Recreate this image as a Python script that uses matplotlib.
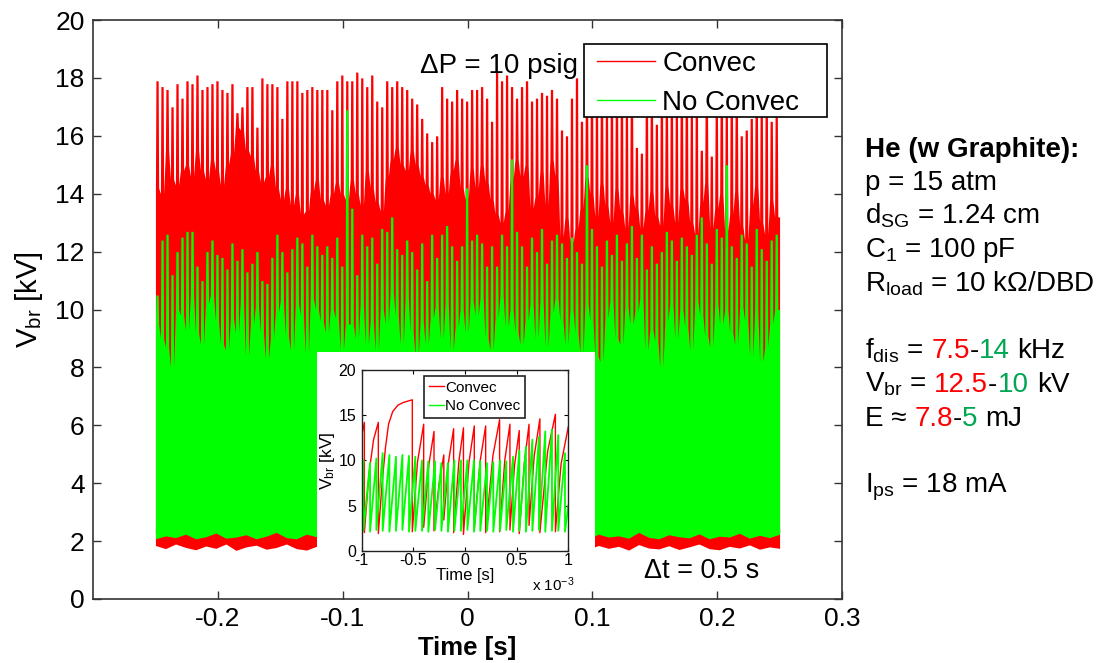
import numpy as np
import matplotlib
matplotlib.use("Agg")
import matplotlib.pyplot as plt
from matplotlib.lines import Line2D
from matplotlib.patches import Rectangle

plt.rcParams['font.family'] = ['Liberation Sans', 'DejaVu Sans']
plt.rcParams['mathtext.fontset'] = 'custom'
plt.rcParams['mathtext.rm'] = 'Liberation Sans'
plt.rcParams['mathtext.it'] = 'Liberation Sans:italic'
plt.rcParams['mathtext.bf'] = 'Liberation Sans:bold'

# ---------------- data ----------------
# main plot: per-bin spike tops and solid-band tops (kV), bins of 4 ms from -0.25 s to 0.25 s
red_peak = [17.9, 17.7, 17.6, 17.0, 17.8, 17.3, 17.9, 17.8, 18.1, 17.6, 17.7, 17.8, 17.9, 17.6, 17.5, 17.8,
            16.8, 17.0, 17.7, 17.7, 16.3, 18.0, 17.8, 17.8, 17.7, 16.6, 17.9, 17.9, 17.9, 17.5, 17.6, 17.7,
            17.6, 17.6, 17.6, 16.9, 17.9, 18.1, 17.9,
            17.9, 18.2, 18.0, 17.7, 18.1, 17.2, 17.0, 17.9, 17.7, 17.9, 17.7, 17.6, 17.3, 17.1, 16.6, 16.1,
            15.8, 16.0, 17.7, 17.3, 17.2, 17.6, 17.3, 17.2, 17.6, 17.6, 17.7, 17.3, 16.5, 18.2, 17.9, 18.1,
            17.7, 17.3, 17.7, 17.9, 17.2, 17.3, 17.5, 17.4, 17.6, 17.3,
            16.2, 16.0, 17.3, 18.0, 16.5, 17.5, 17.8, 17.2, 17.6, 17.0, 17.8, 17.4, 17.6, 17.1, 17.7, 15.6,
            15.4, 17.5, 17.3, 16.4, 17.8, 17.2, 17.6, 17.0, 17.5, 17.8, 16.7, 17.4, 15.5, 17.6, 15.3, 17.2,
            17.7, 17.0, 17.6, 17.3, 16.0, 16.2, 16.6, 17.5, 17.0, 17.6, 16.5, 16.8]
red_valley = [14.2, 14.0, 15.5, 14.5, 14.3, 14.8, 15.0, 14.6, 15.5, 14.8, 14.5, 15.2, 14.8, 14.3, 15.0, 15.4,
              16.3, 16.2, 15.5, 15.3, 14.8, 14.4, 14.6, 15.0, 14.2, 13.8, 14.2, 13.6, 14.0, 13.3, 13.4, 14.1,
              14.5, 13.8, 13.6, 14.0, 14.4, 14.0, 13.8,
              14.5, 14.0, 13.6, 14.8, 14.2, 13.7, 13.4, 14.6, 15.2, 15.6, 15.0, 14.8, 15.5, 15.0, 14.6, 14.3,
              14.0, 13.8, 14.6, 14.0, 14.8, 15.2, 14.2, 13.8, 14.9, 14.2, 15.0, 14.4, 13.8, 13.3, 13.0, 13.4,
              14.5, 15.2, 14.6, 15.0, 13.5, 13.9, 14.8, 13.6, 15.2, 14.6,
              12.5, 13.2, 12.3, 12.8, 13.5, 14.6, 14.0, 13.2, 14.4, 13.6, 13.0, 14.2, 13.4, 12.8, 14.0, 13.5,
              12.8, 13.4, 14.1, 13.2, 12.9, 14.3, 13.6, 13.0, 14.2, 13.8, 13.0, 12.6, 13.7, 14.4, 12.8, 13.5,
              14.0, 12.7, 13.3, 14.1, 12.9, 12.4, 13.6, 14.3, 13.0, 12.6, 13.8, 13.2]
green_peak = [10.5, 12.4, 12.6, 11.2, 12.0, 12.5, 12.7, 12.7, 11.5, 11.0, 12.0, 12.4, 11.9, 11.8, 11.4, 12.3,
              11.7, 12.1, 11.3, 11.6, 12.0, 11.0, 10.9, 11.8, 12.6, 12.0, 11.3, 12.1, 12.5, 12.3, 11.5, 12.6,
              12.2, 11.9, 12.2, 11.8, 12.5, 11.5, 16.9,
              13.5, 11.2, 12.6, 12.2, 12.5, 11.6, 12.8, 12.7, 13.2, 12.1, 11.9, 12.4, 12.0, 11.4, 12.3, 11.0,
              12.6, 11.8, 12.6, 12.9, 12.2, 11.7, 12.2, 14.2, 12.4, 12.6, 12.3, 11.5, 12.2, 11.5, 12.6, 12.2,
              15.2, 12.7, 12.2, 11.5, 12.5, 12.0, 12.8, 11.6, 12.4, 12.6,
              12.3, 11.8, 12.5, 12.0, 11.6, 15.0, 12.8, 12.2, 11.5, 12.4, 11.9, 12.6, 11.7, 12.3, 12.9, 11.8,
              12.6, 11.4, 12.2, 11.6, 12.0, 12.7, 12.4, 11.7, 12.5, 12.2, 11.9, 12.6, 13.2, 12.3, 11.6, 12.8,
              12.5, 15.0, 12.2, 11.8, 12.6, 12.3, 11.5, 12.8, 12.1, 11.7, 12.4, 12.6]
green_valley = [9.5, 9.0, 8.7, 8.0, 10.0, 9.8, 9.3, 10.5, 9.2, 8.8, 10.2, 10.5, 9.6, 8.8, 8.6, 9.7,
                9.2, 10.3, 8.4, 9.5, 10.1, 9.2, 8.3, 9.0, 9.9, 10.3, 9.1, 8.6, 10.2, 9.8, 8.5, 10.4,
                10.0, 9.6, 9.2, 10.0, 9.7, 8.6, 9.5,
                9.5, 9.0, 10.2, 8.8, 9.6, 8.6, 10.0, 9.5, 10.6, 9.8, 8.8, 10.4, 9.2, 8.4, 9.6, 8.8,
                9.7, 10.1, 9.0, 10.2, 8.6, 9.4, 10.0, 9.2, 10.3, 9.8, 10.4, 9.0, 8.6, 9.7, 10.5, 9.4,
                10.0, 9.2, 8.8, 9.6, 10.2, 9.0, 10.3, 8.7, 9.9, 10.4,
                9.6, 8.8, 10.0, 9.2, 8.5, 10.2, 9.6, 8.4, 8.2, 9.7, 10.3, 9.0, 8.8, 10.1, 9.5, 9.9,
                10.4, 8.6, 9.3, 8.9, 8.0, 9.6, 10.2, 9.0, 10.0, 9.4, 8.6, 10.3, 9.8, 9.1, 8.7, 10.2,
                9.5, 10.0, 9.2, 8.8, 10.1, 9.6, 8.4, 9.9, 8.2, 8.7, 9.5, 10.0]
# lower edge of the signals (kV)
red_low = [1.85, 1.74, 1.90, 1.78, 1.70, 1.83, 1.75, 1.90, 1.68, 1.80, 1.86, 1.72, 1.78, 1.90, 1.74, 1.69,
           1.82, 1.88, 1.76, 1.71, 1.84, 1.74, 1.90, 1.78, 1.70, 1.82, 1.75, 1.87, 1.73, 1.80, 1.68, 1.85,
           1.74, 1.90, 1.78, 1.72, 1.84, 1.76, 1.67, 1.82, 1.90, 1.74, 1.78, 1.71, 1.85, 1.75, 1.82, 1.69,
           1.88, 1.76, 1.73, 1.84, 1.71, 1.80, 1.90, 1.74, 1.70, 1.82, 1.76, 1.87, 1.72, 1.80, 1.75]
green_low = [2.08, 2.18, 2.12, 2.24, 2.08, 2.15, 2.28, 2.10, 2.14, 2.22, 2.08, 2.17, 2.30, 2.12, 2.08, 2.24,
             2.15, 2.10, 2.20, 2.12, 2.27, 2.08, 2.15, 2.14, 2.24, 2.10, 2.19, 2.08, 2.30, 2.13, 2.15, 2.08,
             2.22, 2.11, 2.17, 2.25, 2.08, 2.14, 2.20, 2.10, 2.28, 2.12, 2.15, 2.08, 2.24, 2.14, 2.18, 2.10,
             2.30, 2.13, 2.08, 2.22, 2.15, 2.11, 2.25, 2.08, 2.17, 2.14, 2.27, 2.10, 2.20, 2.12, 2.24]

# inset (time in units of 1e-3 s)
inset_red_t = [-1.0, -0.974, -0.974, -0.93, -0.885, -0.839, -0.839, -0.80, -0.77, -0.74, -0.70, -0.65,
               -0.60, -0.51, -0.51, -0.46, -0.40, -0.40, -0.35, -0.30, -0.30, -0.25, -0.205, -0.205,
               -0.16, -0.11, -0.11, -0.06, -0.015, -0.015, 0.04, 0.09, 0.09, 0.145, 0.20, 0.20, 0.27,
               0.335, 0.335, 0.385, 0.435, 0.435, 0.48, 0.525, 0.525, 0.575, 0.62, 0.62, 0.67, 0.725,
               0.725, 0.80, 0.875, 0.875, 0.93, 1.0]
inset_red_v = [12.8, 14.2, 2.0, 8.5, 12.3, 14.2, 1.9, 7.8, 11.4, 14.0, 15.4, 16.1,
               16.4, 16.7, 2.1, 9.8, 14.0, 2.6, 9.5, 13.2, 2.2, 7.5, 10.6, 3.4,
               9.8, 13.5, 2.0, 9.8, 13.6, 1.8, 9.9, 13.8, 2.4, 9.8, 13.8, 2.0, 10.5,
               14.5, 2.1, 10.0, 14.0, 2.3, 9.5, 13.3, 1.9, 9.8, 14.0, 2.8, 10.5, 14.6,
               2.0, 11.0, 15.1, 2.1, 9.6, 13.7]
inset_green_start = 5.5
inset_green_end = 5.0
inset_green_peak_t = [-0.984, -0.919, -0.858, -0.797, -0.732, -0.668, -0.606, -0.542, -0.481, -0.416,
                      -0.355, -0.290, -0.229, -0.165, -0.103, -0.039, 0.023, 0.087, 0.148, 0.213,
                      0.274, 0.339, 0.400, 0.465, 0.526, 0.590, 0.652, 0.716, 0.777, 0.842, 0.903, 0.968]
inset_green_peak_v = [10.0, 9.7, 10.2, 10.8, 10.6, 10.4, 10.6, 10.5, 10.4, 10.0, 9.9, 9.9, 9.7, 9.7, 10.0, 10.0,
                      10.0, 10.0, 9.9, 9.7, 9.8, 10.0, 9.9, 10.4, 11.1, 11.5, 12.3, 12.6, 13.2, 13.4, 12.8, 10.8]
inset_green_trough_v = [2.2, 2.1, 2.3, 2.2, 2.1, 2.2, 2.3, 2.1, 2.2, 2.2, 2.1, 2.3, 2.2, 2.1, 2.2, 2.2,
                        2.3, 2.1, 2.2, 2.2, 2.1, 2.2, 2.3, 2.1, 2.2, 2.1, 2.2, 2.3, 2.1, 2.2, 2.2, 2.1]

x_ticks = [-0.2, -0.1, 0, 0.1, 0.2, 0.3]
x_tick_labels = ['-0.2', '-0.1', '0', '0.1', '0.2', '0.3']
y_ticks = [0, 2, 4, 6, 8, 10, 12, 14, 16, 18, 20]
inset_x_ticks = [-1, -0.5, 0, 0.5, 1]
inset_x_labels = ['-1', '-0.5', '0', '0.5', '1']
inset_y_ticks = [0, 5, 10, 15, 20]

RED = '#FF0000'
GREEN = '#00FF00'
TXT_RED = '#FF0000'
TXT_GREEN = '#00A651'

W, H = 1097, 663
fig = plt.figure(figsize=(W / 100, H / 100), dpi=100)


def fx(px):
    return px / W


def fy(py):
    return 1 - py / H


ax = fig.add_axes([fx(93), fy(599), (842 - 93) / W, (599 - 20) / H])

# ---- main signals ----
nb = len(red_peak)
t_bins = np.linspace(-0.25, 0.25, nb + 1)[:-1]
bw = t_bins[1] - t_bins[0]


def spikes(peaks, valleys):
    xs, ys = [], []
    for ti, p, v in zip(t_bins, peaks, valleys):
        xs += [ti, ti + 0.1 * bw, ti + 0.55 * bw, ti + 0.65 * bw]
        ys += [v, p, p, v]
    xs.append(0.25)
    ys.append(valleys[-1])
    return np.array(xs), np.array(ys)


xr, yr = spikes(red_peak, red_valley)
xg, yg = spikes(green_peak, green_valley)
t_low = np.linspace(-0.25, 0.25, len(red_low))
t_glow = np.linspace(-0.25, 0.25, len(green_low))

ax.fill_between(xr, 2.3, yr, color=RED, lw=0, zorder=2)
ax.fill_between(t_low, red_low, 2.45, color=RED, lw=0, zorder=2)
ax.fill_between(xg, 2.3, yg, color=GREEN, lw=0, zorder=2.1)
ax.fill_between(t_glow, green_low, 2.4, color=GREEN, lw=0, zorder=2.1)

# white area behind inset
ax.add_patch(Rectangle(((316.7 - 93) / 749, 0), (595 - 316.7) / 749, (599 - 351.7) / 579,
                       transform=ax.transAxes, facecolor='white', edgecolor='none', zorder=2.2))

ax.set_xlim(-0.3, 0.3)
ax.set_ylim(0, 20)
ax.set_xticks(x_ticks)
ax.set_xticklabels(x_tick_labels)
ax.set_yticks(y_ticks)
ax.set_axisbelow(False)
ax.tick_params(direction='in', length=6, width=1, color='#333333', labelsize=19,
               top=True, right=True, pad=6)
for s in ax.spines.values():
    s.set_color('#333333')
    s.set_linewidth(1.2)

# main legend: framed box drawn separately so its size matches the original
fig.add_artist(Rectangle((fx(584), fy(117)), (827 - 584) / W, (117 - 44) / H,
                         transform=fig.transFigure, facecolor='white', edgecolor='black',
                         linewidth=1.2, zorder=4))
leg = fig.legend(handles=[Line2D([0], [0], color=RED, lw=1), Line2D([0], [0], color=GREEN, lw=1)],
                 labels=['Convec', 'No Convec'], loc='upper left',
                 bbox_to_anchor=(fx(597), fy(51)), bbox_transform=fig.transFigure,
                 fontsize=20, handlelength=2.1, handletextpad=0.25, borderpad=0,
                 labelspacing=0.45, borderaxespad=0, frameon=False)
leg.set_zorder(5)

fig.text(fx(420), fy(73), 'ΔP = 10 psig', fontsize=20, va='baseline', ha='left')
fig.text(fx(643.6), fy(578), 'Δt = 0.5 s', fontsize=19.5, va='baseline', ha='left')
fig.text(fx(467), fy(655), 'Time [s]', fontsize=18.5, fontweight='bold', va='baseline', ha='center')
fig.text(fx(29), fy(300), r'V$_{\mathrm{br}}$ [kV]', fontsize=21, rotation=90, va='center', ha='center')

# ---- inset ----
axi = fig.add_axes([fx(361.7), fy(550.7), (568.3 - 361.7) / W, (550.7 - 370) / H])
axi.plot(inset_red_t, inset_red_v, color=RED, lw=1.0)
gx = [-1.0]
gy = [inset_green_start]
for tp, vp, vt in zip(inset_green_peak_t, inset_green_peak_v, inset_green_trough_v):
    gx += [tp, tp]
    gy += [vp, vt]
gx.append(1.0)
gy.append(inset_green_end)
axi.plot(gx, gy, color=GREEN, lw=1.3)
axi.set_xlim(-1, 1)
axi.set_ylim(0, 20)
axi.set_xticks(inset_x_ticks)
axi.set_xticklabels(inset_x_labels)
axi.set_yticks(inset_y_ticks)
axi.tick_params(direction='in', length=3, width=0.8, labelsize=11.5, top=True, right=True)
axi.tick_params(axis='x', pad=2)
axi.tick_params(axis='y', pad=4)
for s in axi.spines.values():
    s.set_color('#222222')
    s.set_linewidth(1.0)
axi.set_xlabel('Time [s]', fontsize=12, labelpad=0)
axi.set_ylabel(r'V$_{\mathrm{br}}$ [kV]', fontsize=12.5, labelpad=1)
li = axi.legend(handles=[Line2D([0], [0], color=RED, lw=1), Line2D([0], [0], color=GREEN, lw=1)],
                labels=['Convec', 'No Convec'], loc='upper left',
                bbox_to_anchor=(fx(424), fy(376)), bbox_transform=fig.transFigure,
                fontsize=11, handlelength=1.0, handletextpad=0.1, borderpad=0.3,
                labelspacing=0.3, borderaxespad=0, fancybox=False, framealpha=1)
li.get_frame().set_edgecolor('#222222')
li.get_frame().set_linewidth(1.2)
fig.text(fx(532), fy(591), r'x 10$^{-3}$', fontsize=11, va='baseline', ha='left')

# ---- right-hand annotation block ----
renderer = fig.canvas.get_renderer()


def text_w(s, **kw):
    t = fig.text(0, 0, s, **kw)
    w = t.get_window_extent(renderer).width
    t.remove()
    return w


lines = [
    [('He (w Graphite):', 'black')],
    [('p = 15 atm', 'black')],
    [(r'd$_{\mathrm{SG}}$ = 1.24 cm', 'black')],
    [(r'C$_{1}$ = 100 pF', 'black')],
    [(r'R$_{\mathrm{load}}$ = 10 kΩ/DBD', 'black')],
    None,
    [(r'f$_{\mathrm{dis}}$ = ', 'black'), ('7.5', TXT_RED), ('-', 'black'), ('14', TXT_GREEN), (' kHz', 'black')],
    [(r'V$_{\mathrm{br}}$ = ', 'black'), ('12.5', TXT_RED), ('-', 'black'), ('10', TXT_GREEN), (' kV', 'black')],
    [('E ≈ ', 'black'), ('7.8', TXT_RED), ('-', 'black'), ('5', TXT_GREEN), (' mJ', 'black')],
    None,
    [(r'I$_{\mathrm{ps}}$ = 18 mA', 'black')],
]
x0 = 865
base0 = 156.7
step = 33.6
for k, pieces in enumerate(lines):
    if pieces is None:
        continue
    yb = base0 + k * step
    kw = dict(fontsize=20)
    if k == 0:
        kw['fontweight'] = 'bold'
    prefix = ''
    for txt, col in pieces:
        prefix += txt
        p = txt.strip()
        if not p:
            continue
        xpos = x0 + text_w(prefix.rstrip(), **kw) - text_w(p, **kw)
        fig.text(fx(xpos), fy(yb), p, color=col, va='baseline', ha='left', **kw)

fig.savefig('out.png', dpi=100)
